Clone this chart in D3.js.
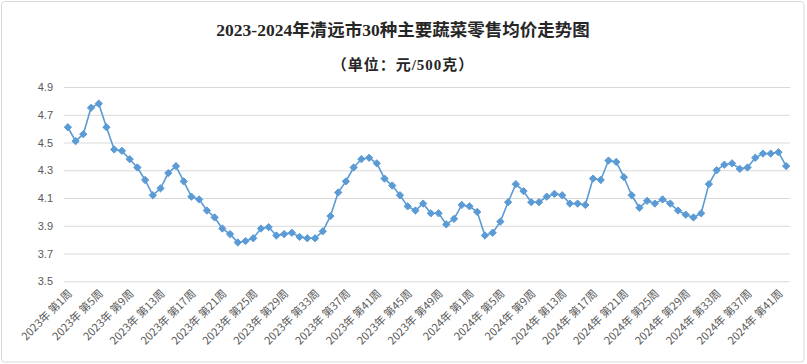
<!DOCTYPE html>
<html><head><meta charset="utf-8">
<script src="https://cdn.jsdelivr.net/npm/d3@7"></script>
<style>
html,body{margin:0;padding:0;background:#fff;}
svg{display:block;}
</style></head>
<body>
<svg id="chart" width="807" height="364"></svg>
<script>
const title = "2023-2024年清远市30种主要蔬菜零售均价走势图";
const subtitle = "（单位：元/500克）";
const weeks2023 = 52;
const weeks2024 = 42;
const categories = [];
for (let w = 1; w <= weeks2023; w++) categories.push("2023年 第" + w + "周");
for (let w = 1; w <= weeks2024; w++) categories.push("2024年 第" + w + "周");
const values = [
  4.61,4.51,4.56,4.75,4.78,4.61,4.45,4.44,4.38,4.32,
  4.23,4.12,4.17,4.28,4.33,4.22,4.11,4.09,4.01,3.96,
  3.88,3.84,3.78,3.79,3.81,3.88,3.89,3.83,3.84,3.85,
  3.82,3.81,3.81,3.86,3.97,4.14,4.22,4.32,4.38,4.39,
  4.35,4.24,4.19,4.12,4.04,4.01,4.06,3.99,3.99,3.91,
  3.95,4.05,
  4.04,4.00,3.83,3.85,3.93,4.07,4.20,4.15,4.07,4.07,
  4.11,4.13,4.12,4.06,4.06,4.05,4.24,4.23,4.37,4.36,
  4.25,4.12,4.03,4.08,4.06,4.09,4.06,4.01,3.98,3.96,
  3.99,4.20,4.30,4.34,4.35,4.31,4.32,4.39,4.42,4.42,
  4.43,4.33
];
const yTicks = [3.5,3.7,3.9,4.1,4.3,4.5,4.7,4.9];
const labelStep = 4;

const svg = d3.select("#chart");
const plot = {left: 64, right: 790, top: 87, bottom: 281.3};

// outer border
svg.append("rect").attr("x",1.5).attr("y",1.5).attr("width",802.5).attr("height",360.5)
  .attr("rx",3).attr("fill","#fff").attr("stroke","#d9d9d9").attr("stroke-width",1);

const x = d3.scaleBand().domain(categories).range([plot.left, plot.right]).padding(0);
const y = d3.scaleLinear().domain([3.5, 4.9]).range([plot.bottom, plot.top]);

// gridlines
const yAxis = d3.axisLeft(y).tickValues(yTicks).tickFormat(d3.format(".1f"))
  .tickSize(-(plot.right - plot.left)).tickPadding(11);
const gy = svg.append("g").attr("transform", `translate(${plot.left},0)`).call(yAxis);
gy.select(".domain").remove();
gy.selectAll(".tick line").attr("stroke","#d9d9d9").attr("stroke-width",1);
gy.selectAll(".tick text").attr("fill","#595959")
  .style("font-family","'Liberation Sans', Arial, sans-serif").style("font-size","11px");

// x axis labels
const xAxis = d3.axisBottom(x)
  .tickValues(categories.filter((d,i)=> i % labelStep === 0))
  .tickSize(0).tickPadding(0);
const gx = svg.append("g").attr("transform", `translate(0,${plot.bottom})`).call(xAxis);
gx.select(".domain").remove();
gx.selectAll(".tick text")
  .attr("text-anchor","end")
  .attr("dy", 0).attr("y", 0)
  .attr("transform","translate(5,13) rotate(-45)")
  .attr("fill","#595959")
  .style("font-family","'Noto Sans CJK SC', sans-serif").style("font-size","11px");

// line
const line = d3.line()
  .x((d,i)=> x(categories[i]) + x.bandwidth()/2)
  .y(d => y(d));
svg.append("path").datum(values).attr("d", line)
  .attr("fill","none").attr("stroke","#5b9bd5").attr("stroke-width",1.6)
  .attr("stroke-linejoin","round");

// markers
const diamond = d3.symbol().type(d3.symbolDiamond2 || d3.symbolDiamond).size(34);
svg.append("g").selectAll("path").data(values).join("path")
  .attr("d", diamond)
  .attr("transform",(d,i)=>`translate(${x(categories[i]) + x.bandwidth()/2},${y(d)})`)
  .attr("fill","#5b9bd5").attr("stroke","#5b9bd5").attr("stroke-width",1);

// titles
svg.append("text").attr("x", 403).attr("y", 36).attr("text-anchor","middle")
  .style("font-family","'Liberation Serif', 'Noto Sans CJK SC', serif")
  .style("font-weight","bold").style("font-size","17.5px").attr("fill","#262626")
  .text(title);
svg.append("text").attr("x", 403).attr("y", 70).attr("text-anchor","middle")
  .style("font-family","'Liberation Serif', 'Noto Sans CJK SC', serif")
  .style("font-weight","bold").style("font-size","15px").style("letter-spacing","1px")
  .attr("fill","#262626")
  .text(subtitle);
</script>
</body></html>
